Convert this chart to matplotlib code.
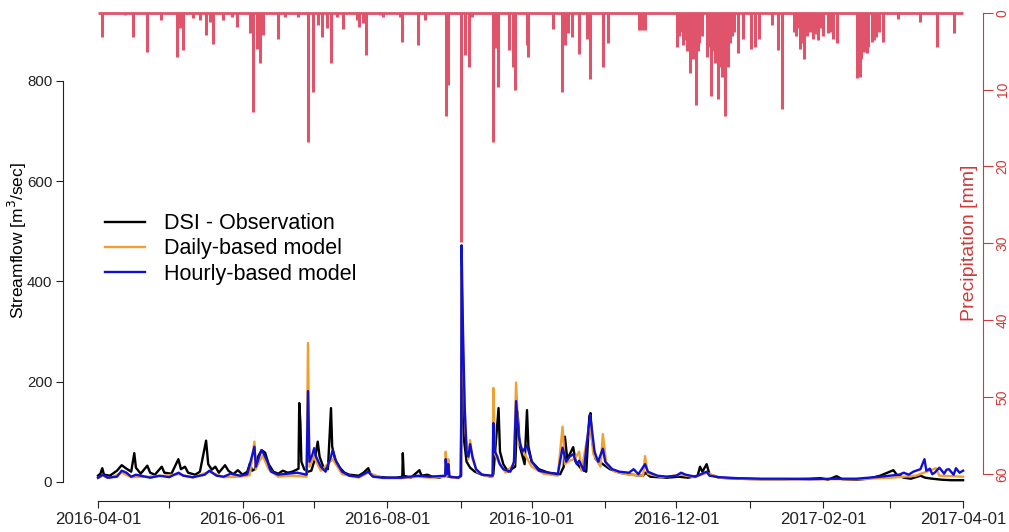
import numpy as np
import pandas as pd
import matplotlib
matplotlib.use('Agg')
import matplotlib.pyplot as plt
import matplotlib.dates as mdates

plt.rcParams['font.family'] = ['Liberation Sans', 'DejaVu Sans']

START = pd.Timestamp('2016-04-01')

# --- Vazões (dias desde 2016-04-01, m3/s) ---
obs_day = [0, 1, 1.8, 2.5, 5, 8, 10, 12, 14, 15.3, 16, 18, 20.8, 22, 24, 26.9, 28, 31, 33.9, 35,
           36.7, 38, 41, 43, 45.6, 46.5, 48, 49.5, 51, 53.6, 55, 57, 59, 61, 63, 64.1, 65, 66.2,
           67.5, 69, 70.5, 72, 74, 76, 78, 80, 82, 84.6, 84.9, 85.4, 85.8, 87, 88.6, 90, 91.5,
           92.7, 93.5, 95, 97, 98.3, 98.8, 100, 102, 104, 106, 110, 112, 114, 115, 118, 122,
           126, 128.4, 128.6, 129, 132, 135.6, 136.5, 139, 141, 144, 146.7, 148, 152, 153,
           153.5, 154, 154.5, 155.5, 157, 159, 162, 166, 166.8, 169, 169.6, 171, 173, 176,
           177, 178, 180, 181, 181.6, 183, 186, 190, 195, 196.5, 197, 198, 200.5, 201.5, 204,
           206, 207.3, 207.8, 208.5, 210, 213, 216, 220, 225, 230, 231, 233, 240, 245, 249,
           253, 254, 255, 256.8, 258, 262, 270, 280, 290, 300, 305, 308, 311.6, 314, 320, 325,
           330, 335.6, 337, 340, 343, 347, 349, 352, 356, 360, 365]
obs_val = [12, 16, 27, 14, 12, 22, 33, 26, 20, 57, 28, 16, 32, 18, 14, 30, 18, 16, 45, 25,
           30, 18, 14, 20, 82, 35, 24, 30, 18, 33, 22, 15, 23, 14, 20, 37, 22, 25,
           50, 63, 58, 35, 20, 16, 22, 18, 20, 26, 157, 117, 40, 25, 20, 22, 45,
           80, 50, 30, 25, 147, 70, 45, 28, 18, 14, 12, 18, 27, 15, 10, 8,
           8, 10, 57, 12, 8, 23, 12, 14, 10, 8, 12, 10, 8, 12,
           249, 150, 80, 40, 28, 20, 14, 10, 15, 147, 60, 35, 20, 30,
           140, 70, 35, 143, 70, 40, 25, 18, 15, 30, 90, 45, 69, 40, 25,
           20, 130, 137, 80, 45, 35, 25, 18, 14, 12, 18, 10, 8, 10, 8,
           12, 30, 20, 35, 15, 8, 6, 5, 5, 6, 7, 4, 11, 5, 4, 6,
           12, 23, 14, 8, 6, 12, 8, 6, 4, 3, 3]

daily_day = [0, 2, 5, 10, 14, 20, 26, 34, 40, 47, 53, 60, 64, 66, 66.6, 68, 69.5, 72, 76,
             82, 88, 88.6, 89.2, 91, 94, 99, 103, 110, 114, 120, 128, 135, 140, 146.5, 146.7,
             147.3, 147.8, 148.3, 152, 153.2, 153.4, 154, 155, 156.3, 157, 158, 160, 163,
             166.5, 166.8, 167.5, 169, 172, 175.5, 176.4, 177.5, 180, 183, 188, 194, 196,
             197, 199, 201, 203, 204, 207.6, 209, 212, 213, 214.5, 218, 224, 230, 230.8,
             232, 238, 246, 252, 256.8, 262, 275, 300, 320, 335, 345, 353.6, 355, 365]
daily_val = [7, 12, 7, 18, 9, 10, 11, 15, 8, 20, 9, 10, 13, 80, 25, 40, 52, 25, 10,
             12, 10, 277, 30, 50, 22, 45, 15, 8, 18, 7, 7, 10, 8, 10, 60,
             12, 45, 9, 7, 10, 420, 260, 100, 45, 83, 45, 20, 12,
             10, 187, 55, 40, 18, 35, 198, 80, 55, 30, 16, 12, 110,
             35, 42, 45, 60, 22, 120, 55, 30, 95, 35, 20, 14, 12, 51,
             16, 9, 14, 9, 18, 8, 5, 5, 5, 8, 12, 27, 12, 10]

hourly_day = [0, 2, 4, 8, 10, 12, 14, 16, 20, 22, 26, 30, 34, 36, 40, 45, 47, 50, 53, 56, 60,
              63, 66, 66.6, 68, 69, 70, 71.5, 73, 76, 80, 84, 88, 88.6, 89.2, 90.5, 91.2,
              92, 94, 96, 98.3, 99, 100.5, 103, 106, 110, 114, 116, 120, 128, 135, 140,
              146.5, 146.7, 147.3, 147.8, 148.3, 152, 153.2, 153.4, 154, 154.7, 155.5,
              156.3, 157, 158, 159.5, 162, 166.5, 166.8, 167.5, 168.5, 169.5, 171, 174,
              175.5, 176.4, 177.5, 179, 181, 183, 186, 190, 194, 196, 197.5, 199, 200.5,
              202, 203, 205, 207.6, 208.5, 209.5, 211, 213, 214, 217, 220, 224, 226, 228,
              230.8, 232, 236, 240, 244, 246, 248, 252, 256.8, 258, 262, 270, 280, 290,
              300, 310, 320, 330, 334, 338, 340, 342, 344, 347, 348.7, 349.5, 351, 352,
              353, 355, 357, 358, 359, 361, 362, 363.5, 365]
hourly_val = [8, 14, 8, 10, 22, 18, 10, 14, 10, 8, 12, 9, 18, 12, 9, 14, 22, 12, 10, 16, 12,
              15, 70, 30, 50, 63, 55, 40, 20, 14, 16, 18, 14, 181, 40, 55, 67,
              50, 30, 20, 50, 63, 40, 20, 12, 10, 20, 10, 8, 8, 12, 10,
              12, 45, 15, 35, 10, 8, 12, 472, 300, 150, 60,
              50, 75, 50, 25, 14, 12, 117, 60, 50, 35, 25, 20,
              40, 161, 90, 60, 72, 40, 22, 18, 15, 68, 40, 50, 55,
              35, 42, 22, 134, 100, 60, 40, 66, 40, 25, 20, 18, 25, 15,
              35, 20, 12, 10, 12, 18, 14, 10, 20, 12, 9, 7, 6, 6,
              5, 6, 6, 10, 12, 14, 18, 14, 20, 25, 45, 22, 26, 15,
              18, 28, 16, 24, 25, 14, 27, 18, 22]

# --- Precipitação (dias desde 2016-04-01, mm) ---
prec_day = [1.8, 11.4, 14.9, 20.5, 26.5, 33.5, 34.6, 36.0, 40.2, 43.0, 45.4, 47.3, 48.6, 52.7,
            56.4, 58.5, 64.1, 65.5, 66.9, 68.4, 69.5, 76.1, 78.9, 84.5, 88.7, 90.5, 92.9, 94.4,
            96.7, 98.3, 100.7, 103.2, 109.2, 110.3, 112.0, 113.1, 119.0, 120.4, 127.4, 128.4,
            135.1, 138.0, 146.8, 147.8, 153.2, 154.9, 156.7, 158.0, 166.8, 167.5, 168.9,
            173.5, 175.2, 175.9, 180.9, 181.6, 191.9, 195.9, 197.0, 198.4, 199.9, 203.0,
            206.2, 207.6, 212.9, 213.2, 215.0, 228.2, 229.5, 230.8, 244.2, 245.0, 245.5,
            246.7, 247.5, 248.3, 249.0, 249.8, 250.5, 251.0, 251.5, 252.3, 253.0, 253.6,
            255.0, 256.8, 257.5, 258.6, 259.5, 260.2, 260.8, 261.7, 262.3, 263.2, 263.8,
            264.6, 265.2, 266.0, 266.8, 267.5, 268.5, 270.2, 272.0, 275.5, 277.2, 279.0,
            284.3, 287.0, 288.5, 293.7, 294.5, 295.5, 296.2, 297.0, 298.0, 299.0, 300.5,
            301.8, 302.5, 303.9, 305.0, 306.0, 308.0, 309.0, 310.3, 311.7, 320.4, 321.5,
            322.0, 323.2, 324.3, 325.0, 326.5, 327.3, 328.3, 329.5, 331.3, 337.7, 346.8,
            353.9, 361.2]
prec_val = [3.1, 0.3, 3.1, 5.1, 1.0, 5.7, 2.0, 4.9, 0.7, 1.0, 2.9, 1.2, 4.1, 1.0,
            0.5, 1.8, 2.7, 12.9, 4.7, 6.6, 2.9, 3.4, 0.5, 0.5, 16.8, 10.3, 1.6, 3.1,
            2.0, 6.6, 0.5, 2.1, 1.0, 1.8, 1.4, 5.5, 0.3, 0.5, 0.5, 3.8,
            4.2, 1.0, 13.5, 9.4, 29.8, 5.5, 7.0, 0.5, 16.8, 4.6, 9.6,
            4.9, 7.0, 10.1, 4.2, 5.7, 2.1, 10.3, 4.2, 2.7, 3.1, 5.4,
            3.4, 8.6, 7.0, 3.8, 4.0, 2.2, 2.2, 2.2, 4.4, 3.0, 2.5,
            4.2, 3.5, 5.0, 3.2, 7.9, 4.5, 6.0, 3.8, 12.0, 5.0, 4.0,
            3.0, 5.7, 4.5, 10.9, 5.0, 6.5, 4.8, 11.2, 7.0, 8.3, 5.5,
            13.5, 6.0, 7.0, 4.0, 3.0, 2.5, 5.3, 3.4, 4.7, 4.4, 3.4,
            1.6, 4.9, 12.5, 2.5, 3.0, 2.0, 4.7, 4.0, 6.0, 3.0, 2.5,
            3.4, 2.8, 3.6, 2.0, 3.0, 2.7, 2.5, 3.4, 4.0, 8.5, 8.3,
            6.0, 5.1, 5.3, 4.5, 3.8, 3.5, 3.1, 2.5, 3.8, 0.8, 1.2,
            4.4, 2.7]

tick_dates = pd.date_range('2016-04-01', '2017-04-01', freq='MS')
tick_labels = [d.strftime('%Y-%m-%d') if d.month % 2 == 0 else '' for d in tick_dates]


def to_dates(days):
    return START + pd.to_timedelta(np.asarray(days, dtype=float), unit='D')


RED = '#DF536B'
AXRED = '#D03A3A'
ORANGE = '#F0A030'
BLUE = '#1010D0'

fig = plt.figure(figsize=(10.09, 5.32), dpi=100)
ax = fig.add_axes([62.7 / 1009, 1 - 500.7 / 532, (983 - 62.7) / 1009, 495.7 / 532])
ax2 = ax.twinx()

ax.plot(to_dates(obs_day), obs_val, color='black', lw=1.7, label='DSI - Observation')
ax.plot(to_dates(daily_day), daily_val, color=ORANGE, lw=1.7, label='Daily-based model')
ax.plot(to_dates(hourly_day), hourly_val, color=BLUE, lw=1.7, label='Hourly-based model')

# precipitação como barras verticais (tipo "h")
ax2.vlines(to_dates(prec_day), 0, prec_val, color=RED, lw=2.2)
ax2.hlines(0, tick_dates[0], tick_dates[-1], color=RED, lw=2)

x0 = mdates.date2num(START)
ax.set_xlim(x0 - 14.9, x0 + 373.4)
ax.set_ylim(-37.9, 951.7)
ax2.set_ylim(63.47, -1.0)

ax.set_xticks(tick_dates)
ax.set_xticklabels(tick_labels, fontsize=12.2)
ax.set_yticks([0, 200, 400, 600, 800])
ax.tick_params(axis='y', labelsize=10.8, length=5, width=0.8, pad=2.5, colors='#222222')
ax.tick_params(axis='x', length=5, width=0.8, pad=3, colors='#222222')
ax.set_ylabel('Streamflow [m$^3$/sec]', fontsize=12.5)
ax.yaxis.set_label_coords((17 - 62.7) / 920.3, 0.525)
ax.yaxis.label.set_va('center')

ax2.set_yticks([0, 10, 20, 30, 40, 50, 60])
for lab in ax2.get_yticklabels():
    lab.set_rotation(90)
    lab.set_va('center')
ax2.tick_params(axis='y', labelsize=10, length=7, width=0.8, pad=2, colors=AXRED)
ax2.set_ylabel('Precipitation [mm]', fontsize=14, color=AXRED)
ax2.yaxis.set_label_coords((969 - 62.7) / 920.3, 0.52)
ax2.yaxis.label.set_va('center')
ax2.yaxis.label.set_rotation(90)

for s in ['top', 'right']:
    ax.spines[s].set_visible(False)
for s in ['top', 'left', 'bottom']:
    ax2.spines[s].set_visible(False)
ax.spines['left'].set_bounds(0, 800)
ax.spines['bottom'].set_bounds(mdates.date2num(tick_dates[0]), mdates.date2num(tick_dates[-1]))
ax2.spines['right'].set_bounds(0, 60)
ax2.spines['right'].set_color(AXRED)
for s in ['left', 'bottom']:
    ax.spines[s].set_color('#222222')
    ax.spines[s].set_linewidth(0.8)

ax.set_zorder(ax2.get_zorder() + 1)
ax.patch.set_visible(False)

leg = ax.legend(loc='upper left', bbox_to_anchor=(0.046, 0.58), frameon=False, fontsize=15.5,
                handlelength=1.85, handletextpad=0.9, labelspacing=0.2, borderpad=0,
                borderaxespad=0)
for line in leg.get_lines():
    line.set_linewidth(1.7)

fig.savefig('out.png', dpi=100)
